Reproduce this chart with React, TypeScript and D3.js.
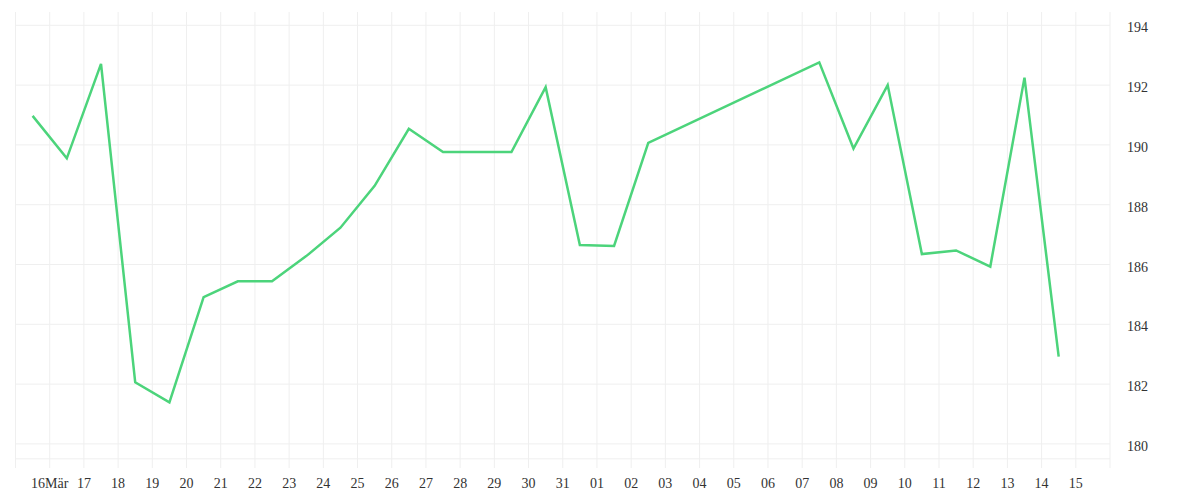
import React from "react";
import * as d3 from "d3";

// daily closing values, plotted at midday of each day
const dates = [
  "2024-03-15", "2024-03-16", "2024-03-17", "2024-03-18", "2024-03-19",
  "2024-03-20", "2024-03-21", "2024-03-22", "2024-03-23", "2024-03-24",
  "2024-03-25", "2024-03-26", "2024-03-27", "2024-03-28", "2024-03-29",
  "2024-03-30", "2024-03-31", "2024-04-01", "2024-04-02", "2024-04-07",
  "2024-04-08", "2024-04-09", "2024-04-10", "2024-04-11", "2024-04-12",
  "2024-04-13", "2024-04-14",
];
const values = [
  190.97, 189.55, 192.71, 182.06, 181.39,
  184.91, 185.44, 185.44, 186.28, 187.23,
  188.63, 190.54, 189.76, 189.76, 189.76,
  191.93, 186.65, 186.62, 190.07, 192.76,
  189.88, 192.0, 186.35, 186.47, 185.93,
  192.25, 182.92,
];
const yTicks = [180, 182, 184, 186, 188, 190, 192, 194];
const yGrid = [179.5, 180, 182, 184, 186, 188, 190, 192, 194];
const xStart = "2024-03-15";
const xEnd = "2024-04-16";

const W = 1200;
const H = 500;
const left = 15.5;
const right = 1110;
const top = 12;
const bottom = 468;

export default function App() {
  const parse = d3.utcParse("%Y-%m-%d");
  const x = d3
    .scaleUtc()
    .domain([parse(xStart) as Date, parse(xEnd) as Date])
    .range([left, right]);
  const y = d3
    .scaleLinear()
    .domain([194, 180])
    .range([25.3, 443.9]);

  const data = dates.map((d, i) => ({
    date: d3.utcHour.offset(parse(d) as Date, 12),
    value: values[i],
  }));

  const days = d3.utcDay.range(parse(xStart) as Date, d3.utcDay.offset(parse(xEnd) as Date, 1));
  const labelDays = days.slice(1, -1);
  const fmt = d3.utcFormat("%d");
  const label = (d: Date) =>
    d.getUTCMonth() === 2 && d.getUTCDate() === 16 ? "16Mär" : fmt(d);

  const line = d3
    .line<{ date: Date; value: number }>()
    .x((d) => x(d.date))
    .y((d) => y(d.value));

  return (
    <div style={{ position: "absolute", left: 0, top: 0 }}>
      <svg width={W} height={H} style={{ display: "block", background: "#fff" }}>
        <g stroke="#efefef" strokeWidth={1}>
          {days.map((d, i) => (
            <line key={i} x1={x(d)} x2={x(d)} y1={top} y2={bottom} />
          ))}
          {yGrid.map((v) => (
            <line key={v} x1={left} x2={right} y1={y(v)} y2={y(v)} />
          ))}
        </g>
        <path d={line(data) ?? ""} fill="none" stroke="#4cd47b" strokeWidth={2.5} strokeLinejoin="miter" />
        <g fontFamily="'Liberation Serif', serif" fontSize={14} fill="#333">
          {yTicks.map((v) => (
            <text key={v} x={1127} y={y(v) + 7}>
              {v}
            </text>
          ))}
          {labelDays.map((d, i) => (
            <text key={i} x={x(d)} y={488} textAnchor="middle">
              {label(d)}
            </text>
          ))}
        </g>
      </svg>
    </div>
  );
}
